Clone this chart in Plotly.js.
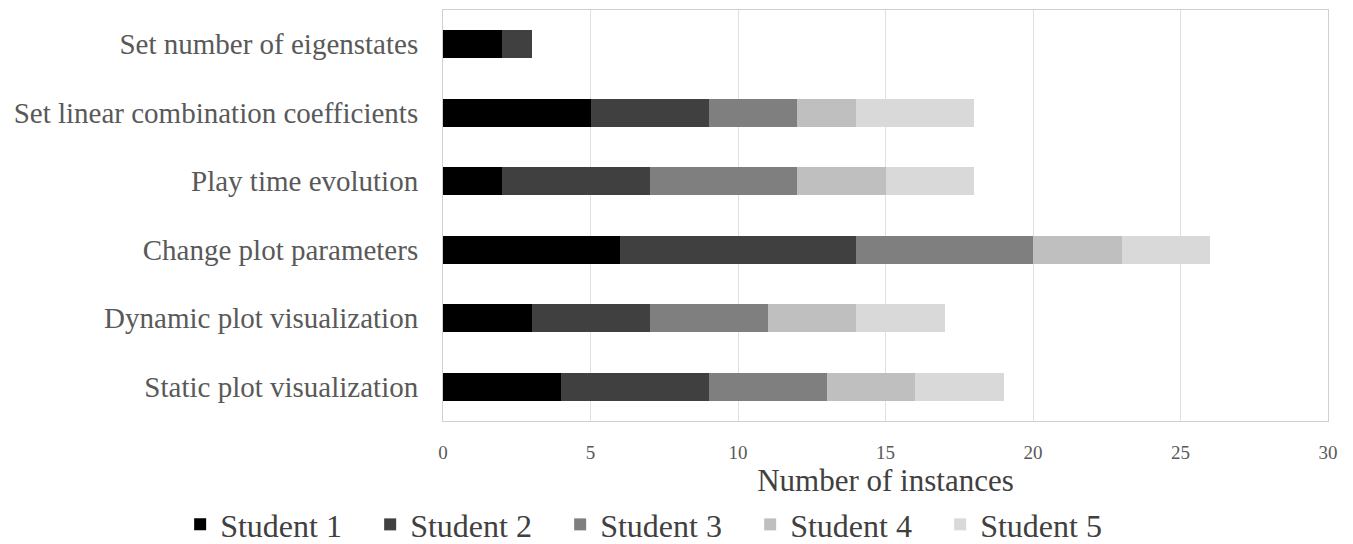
<!DOCTYPE html>
<html>
<head>
<meta charset="utf-8">
<script src="https://cdn.plot.ly/plotly-3.0.1.min.js"></script>
<style>html,body{margin:0;padding:0;background:#fff;}#chart{width:1353px;height:544px;}</style>
</head>
<body>
<div id="chart"></div>
<script>
const categories = [
  "Set number of eigenstates",
  "Set linear combination coefficients",
  "Play time evolution",
  "Change plot parameters",
  "Dynamic plot visualization",
  "Static plot visualization"
];
const seriesNames = ["Student 1", "Student 2", "Student 3", "Student 4", "Student 5"];
const student1 = [2, 5, 2, 6, 3, 4];
const student2 = [1, 4, 5, 8, 4, 5];
const student3 = [0, 3, 5, 6, 4, 4];
const student4 = [0, 2, 3, 3, 3, 3];
const student5 = [0, 4, 3, 3, 3, 3];
const seriesValues = [student1, student2, student3, student4, student5];
const colors = ["#000000", "#404040", "#7f7f7f", "#bfbfbf", "#d9d9d9"];

const traces = seriesValues.map((vals, i) => ({
  type: "bar",
  orientation: "h",
  name: seriesNames[i],
  y: categories,
  x: vals,
  marker: {color: colors[i], line: {width: 0}},
  hoverinfo: "x+name"
}));

const font = "Liberation Serif, Times New Roman, serif";
const layout = {
  barmode: "stack",
  bargap: 0.59,
  width: 1353,
  height: 544,
  margin: {l: 443, r: 25, t: 10, b: 123, autoexpand: false},
  paper_bgcolor: "#ffffff",
  plot_bgcolor: "#ffffff",
  font: {family: font, color: "#595959"},
  xaxis: {
    range: [0, 30],
    dtick: 5,
    tick0: 0,
    showgrid: true,
    gridcolor: "#e0e0e0",
    gridwidth: 1,
    zeroline: false,
    showline: true,
    linecolor: "#d0d0d0",
    mirror: true,
    ticks: "",
    automargin: false,
    tickfont: {family: font, size: 19, color: "#595959"},
    ticklabelstandoff: 14,
    title: {text: "Number of instances", font: {family: font, size: 31, color: "#404040"}, standoff: 6}
  },
  yaxis: {
    autorange: "reversed",
    showgrid: false,
    zeroline: false,
    showline: true,
    linecolor: "#d0d0d0",
    mirror: true,
    ticks: "",
    automargin: false,
    ticklabelstandoff: 18,
    tickfont: {family: font, size: 29, color: "#595959"}
  },
  showlegend: true,
  legend: {
    orientation: "h",
    x: -0.297,
    xanchor: "left",
    y: -0.252,
    yanchor: "middle",
    font: {family: font, size: 32, color: "#404040"},
    traceorder: "normal",
    itemwidth: 30,
    entrywidth: 145,
    entrywidthmode: "pixels",
    bgcolor: "rgba(0,0,0,0)"
  }
};

Plotly.newPlot("chart", traces, layout, {displayModeBar: false, staticPlot: true});
</script>
</body>
</html>
